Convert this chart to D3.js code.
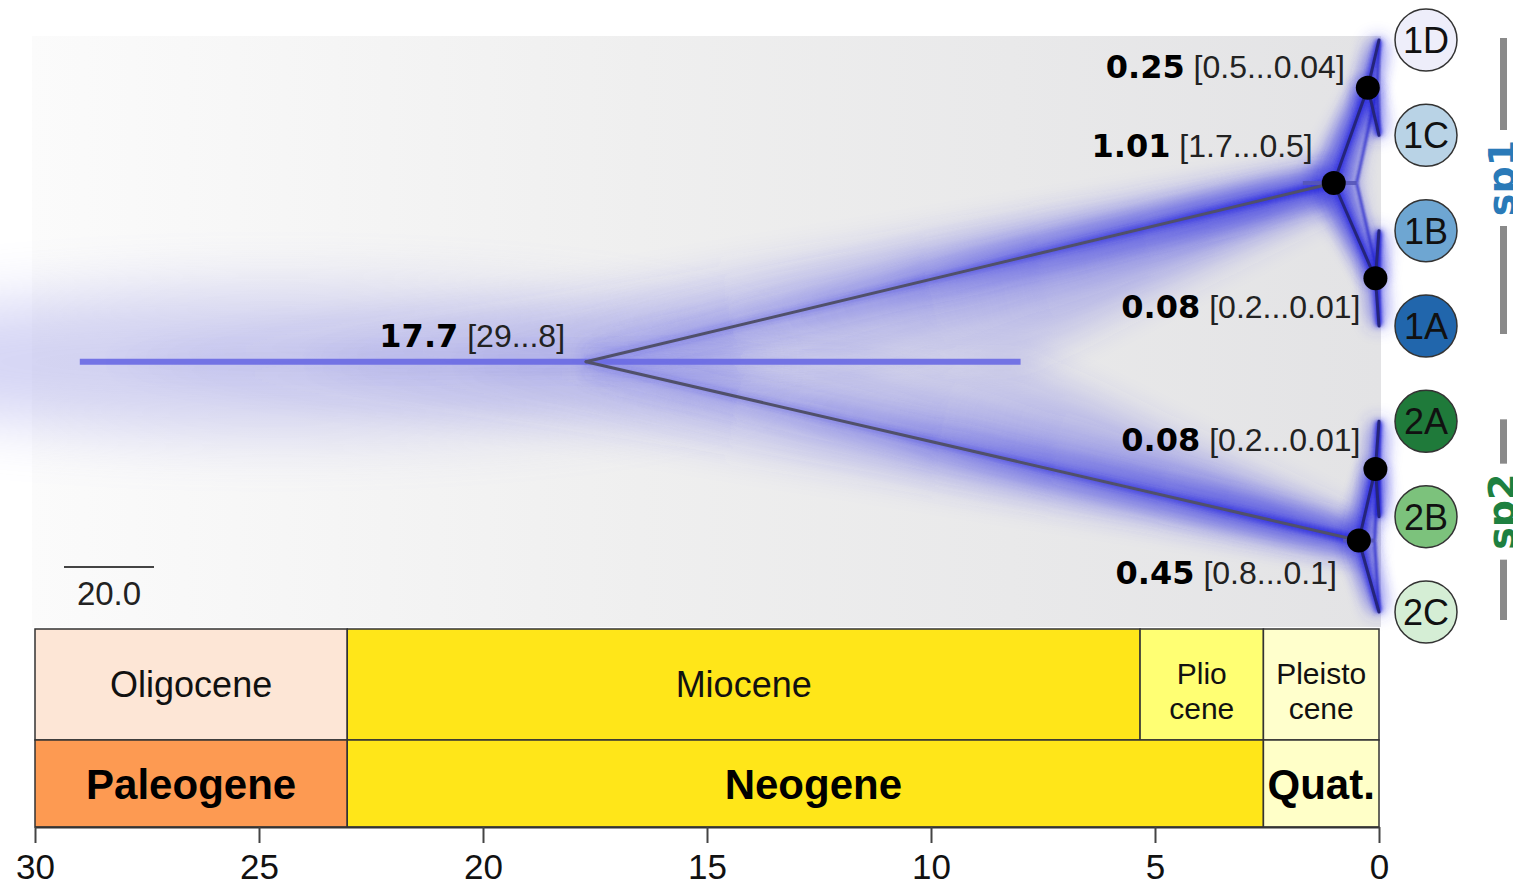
<!DOCTYPE html>
<html>
<head>
<meta charset="utf-8">
<script src="https://cdn.jsdelivr.net/npm/d3@7"></script>
<style>
body { margin: 0; background: #fff; }
text { font-family: "Liberation Sans", Arial, sans-serif; }
</style>
</head>
<body>
<script>
// tips, top to bottom
var tipNames = ["1D", "1C", "1B", "1A", "2A", "2B", "2C"];
var tipColors = ["#eeeefa", "#b9d3e6", "#6ea6d2", "#2166ac", "#1f7a3a", "#7cc27c", "#d5eed5"];

// internal nodes (ages in Ma, 95% HPD)
var nodeIds = ["root", "sp1", "n1DC", "n1BA", "sp2", "n2AB"];
var nodeAges = [17.7, 1.01, 0.25, 0.08, 0.45, 0.08];
var hpdOld = [29, 1.7, 0.5, 0.2, 0.8, 0.2];
var hpdYoung = [8, 0.5, 0.04, 0.01, 0.1, 0.01];
var nodeChildren = [["sp1", "sp2"], ["n1DC", "n1BA"], ["1D", "1C"], ["1B", "1A"], ["n2AB", "2C"], ["2A", "2B"]];
var ageLabels = ["17.7", "1.01", "0.25", "0.08", "0.45", "0.08"];
var hpdLabels = ["[29...8]", "[1.7...0.5]", "[0.5...0.04]", "[0.2...0.01]", "[0.8...0.1]", "[0.2...0.01]"];

// time scale
var epochNames = [["Oligocene"], ["Miocene"], ["Plio", "cene"], ["Pleisto", "cene"]];
var epochStart = [30, 23.03, 5.333, 2.58];
var epochEnd = [23.03, 5.333, 2.58, 0];
var epochColors = ["#fde6d6", "#ffe619", "#ffff73", "#ffffcc"];
var periodNames = ["Paleogene", "Neogene", "Quat."];
var periodStart = [30, 23.03, 2.58];
var periodEnd = [23.03, 2.58, 0];
var periodColors = ["#fd9a52", "#ffe619", "#ffffc8"];
var tickValues = [30, 25, 20, 15, 10, 5, 0];

// species groups
var speciesNames = ["sp1", "sp2"];
var speciesFirst = ["1D", "2A"];
var speciesLast = ["1A", "2C"];
var speciesColors = ["#2a7ab8", "#1e8040"];
var scaleBarLabel = "20.0";

var w = 1513, h = 887;
var svg = d3.select("body").append("svg").attr("width", w).attr("height", h);
var defs = svg.append("defs");

var x = d3.scaleLinear().domain([30, 0]).range([35, 1379]);
var y = d3.scalePoint().domain(tipNames).range([40, 612]);

// build nodes
var nodes = {};
tipNames.forEach(function(t, i) {
  nodes[t] = {id: t, age: 0, old: 0, young: 0, tip: true, color: tipColors[i]};
});
nodeIds.forEach(function(id, i) {
  nodes[id] = {id: id, age: nodeAges[i], old: hpdOld[i], young: hpdYoung[i],
    kids: nodeChildren[i], label: ageLabels[i], hpd: hpdLabels[i]};
});
function setY(n) {
  if (n.tip) { n.y = y(n.id); return n.y; }
  n.y = d3.mean(n.kids.map(function(k) { return setY(nodes[k]); }));
  return n.y;
}
setY(nodes.root);

var branches = [];
nodeIds.forEach(function(id) {
  nodes[id].kids.forEach(function(k) { branches.push({p: nodes[id], c: nodes[k]}); });
});

// filters
function blur(id, sd) {
  defs.append("filter").attr("id", id)
    .attr("filterUnits", "userSpaceOnUse")
    .attr("x", -50).attr("y", 0).attr("width", w + 100).attr("height", h)
    .append("feGaussianBlur").attr("stdDeviation", sd);
}
blur("bXL", 30);
blur("bL", 18);
blur("bM", 9);
blur("bS", 2.5);
blur("bT", 0.8);

// panel background
var bg = defs.append("linearGradient").attr("id", "bg").attr("x1", 0).attr("x2", 1).attr("y1", 0).attr("y2", 0);
bg.append("stop").attr("offset", 0).attr("stop-color", "#fbfbfb");
bg.append("stop").attr("offset", 0.45).attr("stop-color", "#efefef");
bg.append("stop").attr("offset", 1).attr("stop-color", "#e3e3e5");
svg.append("rect").attr("x", 32).attr("y", 36).attr("width", 1349).attr("height", 591)
  .attr("fill", "url(#bg)");

var haze = "#3030e0";

// root stem haze
var r = nodes.root;
svg.append("ellipse")
  .attr("cx", (x(r.old) + x(r.age)) / 2 - 60).attr("cy", r.y)
  .attr("rx", (x(r.age) - x(r.old)) / 2 + 230).attr("ry", 70)
  .attr("fill", "#8080e0").attr("opacity", 0.32).attr("filter", "url(#bXL)");

// branch gradients
branches.forEach(function(b, i) {
  var long = b.p.age > 5;
  var g = defs.append("linearGradient").attr("id", "g" + i)
    .attr("gradientUnits", "userSpaceOnUse")
    .attr("x1", x(b.p.age)).attr("y1", b.p.y)
    .attr("x2", x(b.c.age)).attr("y2", b.c.y);
  var stops = long ? [[0, 0.12], [0.4, 0.28], [0.75, 0.6], [1, 1]] : [[0, 0.9], [1, 1]];
  stops.forEach(function(s) {
    g.append("stop").attr("offset", s[0]).attr("stop-color", haze).attr("stop-opacity", s[1]);
  });
  b.long = long;
});

// fans (uncertainty clouds)
var fanLayers = [1, 0.6, 0.3];
var fanG = svg.append("g");
branches.forEach(function(b, i) {
  fanLayers.forEach(function(f) {
    var pOld = b.p.age + f * (b.p.old - b.p.age), pYoung = b.p.age - f * (b.p.age - b.p.young);
    var cOld = b.c.age + f * (b.c.old - b.c.age), cYoung = b.c.age - f * (b.c.age - b.c.young);
    var pts = [[x(pOld), b.p.y], [x(pYoung), b.p.y], [x(cYoung), b.c.y], [x(cOld), b.c.y]];
    fanG.append("path")
      .attr("d", "M" + pts.join("L") + "Z")
      .attr("fill", "url(#g" + i + ")")
      .attr("opacity", b.long ? 0.45 : 0.35)
      .attr("filter", b.long ? "url(#bL)" : "url(#bM)");
  });
});

// glow along branches
branches.forEach(function(b, i) {
  svg.append("line")
    .attr("x1", x(b.p.age)).attr("y1", b.p.y).attr("x2", x(b.c.age)).attr("y2", b.c.y)
    .attr("stroke", "url(#g" + i + ")").attr("stroke-width", b.long ? 34 : 14)
    .attr("opacity", 0.6).attr("filter", "url(#bM)");
  svg.append("line")
    .attr("x1", x(b.p.age)).attr("y1", b.p.y).attr("x2", x(b.c.age)).attr("y2", b.c.y)
    .attr("stroke", "url(#g" + i + ")").attr("stroke-width", b.long ? 9 : 7)
    .attr("filter", "url(#bS)");
});

// youngest-bound lines for the short branches
branches.filter(function(b) { return !b.long; }).forEach(function(b) {
  svg.append("line")
    .attr("x1", x(b.p.young)).attr("y1", b.p.y).attr("x2", x(b.c.young)).attr("y2", b.c.y)
    .attr("stroke", "#1c1cc8").attr("stroke-width", 3).attr("opacity", 0.7)
    .attr("filter", "url(#bT)");
});

// node HPD bars
nodeIds.forEach(function(id) {
  var n = nodes[id];
  svg.append("line")
    .attr("x1", x(n.old)).attr("x2", x(n.young)).attr("y1", n.y).attr("y2", n.y)
    .attr("stroke", id === "root" ? "#6a6ae4" : "#5656b8")
    .attr("stroke-width", id === "root" ? 6 : 4).attr("opacity", 0.9);
});

// branches
branches.forEach(function(b) {
  svg.append("line")
    .attr("x1", x(b.p.age)).attr("y1", b.p.y).attr("x2", x(b.c.age)).attr("y2", b.c.y)
    .attr("stroke", b.long ? "#50506a" : "#25257a").attr("stroke-width", 3)
    .attr("stroke-linecap", "round");
});

// node dots
nodeIds.filter(function(id) { return id !== "root"; }).forEach(function(id) {
  svg.append("circle").attr("cx", x(nodes[id].age)).attr("cy", nodes[id].y).attr("r", 12).attr("fill", "#000");
});

// node labels
var labelOffsets = {root: [-21, -15], sp1: [-21, -26], n1DC: [-23, -10], n1BA: [-15, 40], sp2: [-22, 43], n2AB: [-15, -18]};
nodeIds.forEach(function(id) {
  var n = nodes[id], o = labelOffsets[id];
  var t = svg.append("text").attr("x", x(n.age) + o[0]).attr("y", n.y + o[1])
    .attr("text-anchor", "end").attr("font-size", 32);
  t.append("tspan").text(n.label).style("font-family", "'DejaVu Sans', Verdana, sans-serif")
    .attr("font-weight", "bold").attr("fill", "#000");
  t.append("tspan").text(" " + n.hpd).attr("fill", "#222");
});

// tip circles
tipNames.forEach(function(t) {
  var n = nodes[t];
  svg.append("circle").attr("cx", 1426).attr("cy", n.y).attr("r", 31)
    .attr("fill", n.color).attr("stroke", "#333").attr("stroke-width", 1.5);
  svg.append("text").attr("x", 1426).attr("y", n.y).attr("dy", "0.36em")
    .attr("text-anchor", "middle").attr("font-size", 36).attr("fill", "#111").text(t);
});

// species bars (labels run off the right edge, as in the original)
speciesNames.forEach(function(s, i) {
  var y1 = y(speciesFirst[i]) - 2, y2 = y(speciesLast[i]) + 8;
  var mid = (y1 + y2) / 2 - 8;
  svg.append("rect").attr("x", 1500).attr("width", 7).attr("y", y1).attr("height", mid - 48 - y1).attr("fill", "#8a8a8a");
  svg.append("rect").attr("x", 1500).attr("width", 7).attr("y", mid + 48).attr("height", y2 - mid - 48).attr("fill", "#8a8a8a");
  svg.append("text").attr("transform", "translate(1515," + mid + ") rotate(-90)")
    .attr("text-anchor", "middle").attr("font-size", 38).attr("font-weight", "bold")
    .style("font-family", "'DejaVu Sans', Verdana, sans-serif")
    .attr("fill", speciesColors[i]).text(s);
});

// scale bar
svg.append("line").attr("x1", 64).attr("x2", 154).attr("y1", 567).attr("y2", 567)
  .attr("stroke", "#444").attr("stroke-width", 2);
svg.append("text").attr("x", 109).attr("y", 605).attr("text-anchor", "middle")
  .attr("font-size", 33).attr("fill", "#222").text(scaleBarLabel);

// epochs
var ep = svg.append("g");
epochNames.forEach(function(name, i) {
  var x0 = x(epochStart[i]), x1 = x(epochEnd[i]);
  ep.append("rect").attr("x", x0).attr("y", 629).attr("width", x1 - x0).attr("height", 111)
    .attr("fill", epochColors[i]).attr("stroke", "#333").attr("stroke-width", 1.5);
  var single = name.length === 1;
  name.forEach(function(line, j) {
    ep.append("text").attr("x", (x0 + x1) / 2).attr("y", (single ? 697 : 684) + j * 35)
      .attr("text-anchor", "middle").attr("font-size", single ? 36 : 30)
      .attr("fill", "#111").text(line);
  });
});
periodNames.forEach(function(name, i) {
  var x0 = x(periodStart[i]), x1 = x(periodEnd[i]);
  ep.append("rect").attr("x", x0).attr("y", 740).attr("width", x1 - x0).attr("height", 87)
    .attr("fill", periodColors[i]).attr("stroke", "#333").attr("stroke-width", 1.5);
  ep.append("text").attr("x", (x0 + x1) / 2 + (i === 1 ? 8 : 0)).attr("y", 799)
    .attr("text-anchor", "middle").attr("font-size", 42).attr("font-weight", "bold")
    .attr("fill", "#000").text(name);
});

// axis
var axis = svg.append("g").attr("transform", "translate(0,827)")
  .call(d3.axisBottom(x).tickValues(tickValues).tickSize(16).tickSizeOuter(0).tickPadding(11));
axis.select(".domain").attr("stroke", "#333").attr("stroke-width", 2);
axis.selectAll(".tick line").attr("stroke", "#444").attr("stroke-width", 2);
axis.selectAll(".tick text").attr("font-size", 35).attr("fill", "#111")
  .style("font-family", "'Liberation Sans', Arial, sans-serif");
</script>
</body>
</html>
